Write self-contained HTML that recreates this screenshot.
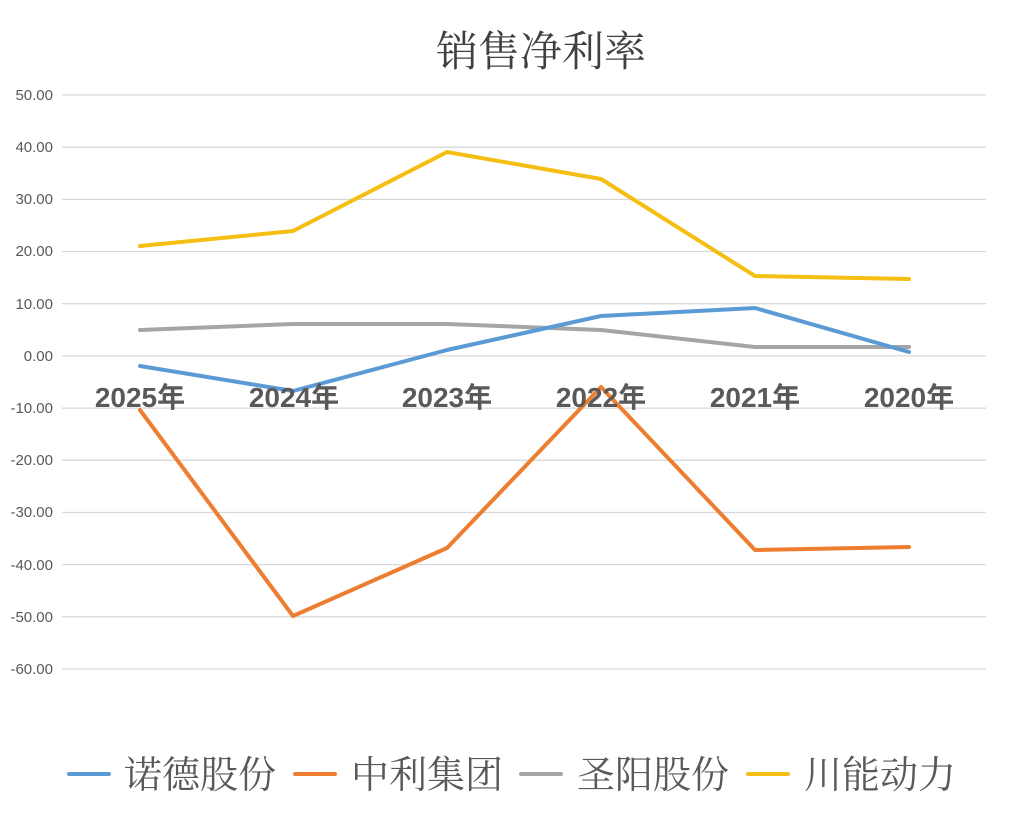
<!DOCTYPE html>
<html><head><meta charset="utf-8"><style>
html,body{margin:0;padding:0;background:#fff;}
svg{display:block;}
</style></head><body>
<svg width="1029" height="817" viewBox="0 0 1029 817" xmlns="http://www.w3.org/2000/svg">
<rect width="1029" height="817" fill="#fff"/>
<text x="541" y="66" text-anchor="middle" font-family="'Noto Serif CJK SC',serif" font-size="42" fill="#404040">销售净利率</text>
<g stroke="#d9d9d9" stroke-width="1.3">
<line x1="62" x2="986" y1="95" y2="95"/><line x1="62" x2="986" y1="147.2" y2="147.2"/>
<line x1="62" x2="986" y1="199.4" y2="199.4"/><line x1="62" x2="986" y1="251.5" y2="251.5"/>
<line x1="62" x2="986" y1="303.7" y2="303.7"/><line x1="62" x2="986" y1="355.9" y2="355.9"/>
<line x1="62" x2="986" y1="408.1" y2="408.1"/><line x1="62" x2="986" y1="460.3" y2="460.3"/>
<line x1="62" x2="986" y1="512.5" y2="512.5"/><line x1="62" x2="986" y1="564.6" y2="564.6"/>
<line x1="62" x2="986" y1="616.8" y2="616.8"/><line x1="62" x2="986" y1="669" y2="669"/>
</g>
<g font-family="'Liberation Sans',sans-serif" font-size="15" fill="#595959" text-anchor="end">
<text x="53" y="100">50.00</text><text x="53" y="152">40.00</text><text x="53" y="204">30.00</text>
<text x="53" y="256">20.00</text><text x="53" y="309">10.00</text><text x="53" y="361">0.00</text>
<text x="53" y="413">-10.00</text><text x="53" y="465">-20.00</text><text x="53" y="517">-30.00</text>
<text x="53" y="570">-40.00</text><text x="53" y="622">-50.00</text><text x="53" y="674">-60.00</text>
</g>
<g fill="none" stroke-width="4" stroke-linejoin="round" stroke-linecap="round">
<polyline stroke="#ed7d31" points="140,410 293,616 447,548 601,387 755,550 909,547"/>
<polyline stroke="#a5a5a5" points="140,330 293,324 447,324 601,330 755,347 909,347"/>
<polyline stroke="#5b9bd5" points="140,366 293,391 447,350 601,316 755,308 909,352"/>
<polyline stroke="#f4be12" points="140,246 293,231 447,152 601,179 755,276 909,279"/>
</g>
<g font-family="'Liberation Sans','Noto Sans CJK SC',sans-serif" font-size="28" font-weight="bold" fill="#595959" text-anchor="middle">
<text x="140" y="407">2025年</text><text x="294" y="407">2024年</text><text x="447" y="407">2023年</text>
<text x="601" y="407">2022年</text><text x="755" y="407">2021年</text><text x="909" y="407">2020年</text>
</g>
<g stroke-width="4" stroke-linecap="round">
<line x1="69" x2="109" y1="774" y2="774" stroke="#5b9bd5"/>
<line x1="295" x2="335" y1="774" y2="774" stroke="#ed7d31"/>
<line x1="521" x2="561" y1="774" y2="774" stroke="#a5a5a5"/>
<line x1="748" x2="788" y1="774" y2="774" stroke="#f4be12"/>
</g>
<g font-family="'Noto Serif CJK SC',serif" font-size="38" fill="#595959">
<text x="124" y="788">诺德股份</text><text x="351" y="788">中利集团</text>
<text x="577" y="788">圣阳股份</text><text x="804" y="788">川能动力</text>
</g>
</svg>
</body></html>
